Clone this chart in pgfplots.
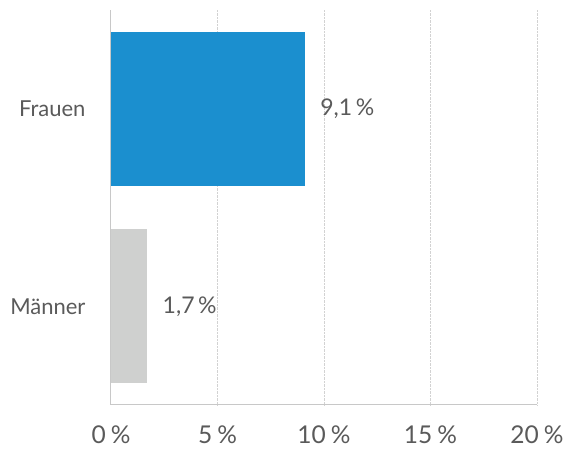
\documentclass[border=0pt]{standalone}
\usepackage{fontspec}
\setmainfont{Lato}
\usepackage{pgfplots}
\pgfplotsset{compat=1.18}
\definecolor{barblue}{HTML}{1B8FCF}
\definecolor{bargray}{HTML}{CFD0CF}
\definecolor{txt}{HTML}{5A5A5A}
\definecolor{axisgray}{HTML}{C8C8C8}
\definecolor{gridgray}{HTML}{D2D2D2}
\begin{document}
\begin{tikzpicture}
\useasboundingbox (-111pt,-44pt) rectangle (452pt,405pt);
\begin{axis}[
  at={(0pt,0pt)}, anchor=south west,
  xbar, scale only axis, width=426pt, height=395pt,
  xmin=0, xmax=20, ymin=-0.5, ymax=1.5,
  bar width=154pt,
  ytick={0,1}, yticklabels={Männer,Frauen},
  xtick={5,10,15,20}, xticklabels={5\hspace{5pt}\%,10\hspace{5pt}\%,15\hspace{5pt}\%,20\hspace{5pt}\%},
  extra x ticks={0}, extra x tick labels={0\hspace{5pt}\%},
  extra x tick style={grid=none},
  axis x line*=bottom, axis y line*=left,
  axis line style={axisgray, line width=1pt, -},
  major tick length=0pt,
  xmajorgrids, grid style={densely dotted, gridgray, line width=0.7pt},
  /pgf/number format/assume math mode=true,
  xticklabel style={font=\fontsize{24.5}{30}\selectfont, text=txt, yshift=-17pt},
  yticklabel style={font=\fontsize{22}{26}\selectfont, text=txt, xshift=-22pt},
  nodes near coords, point meta=explicit symbolic,
  nodes near coords style={font=\fontsize{23}{26}\selectfont, text=txt, anchor=west, xshift=12pt},
  clip=false,
]
\addplot[fill=barblue, draw=none, bar shift=0pt] coordinates {(9.1,1) [9,1\hspace{3.5pt}\%]};
\addplot[fill=bargray, draw=none, bar shift=0pt] coordinates {(1.7,0) [1,7\hspace{3.5pt}\%]};
\end{axis}
\end{tikzpicture}
\end{document}
